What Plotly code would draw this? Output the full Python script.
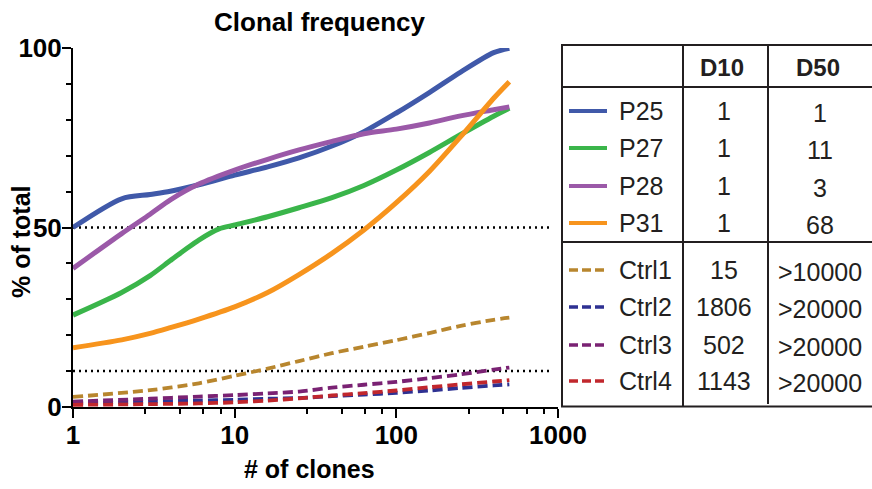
import plotly.graph_objects as go

# ---------------- data ----------------
x_p = [1, 2, 3, 4, 6, 10, 16, 25, 40, 63, 100, 160, 250, 400, 500]
p25 = [50, 58, 59.2, 60.1, 61.9, 64.6, 66.9, 69.4, 72.7, 76.7, 81.9, 87.6, 93.3, 98.7, 99.9]
x_p28 = [1, 2, 3, 4, 6, 10, 16, 25, 40, 63, 100, 160, 250, 400, 500]
p28 = [38.6, 48.3, 53.7, 57.7, 62.1, 66.0, 69.0, 71.6, 74.0, 76.1, 77.4, 79.1, 81.1, 82.8, 83.6]
x_p27 = [1, 2, 3, 4, 5, 6, 8, 10, 16, 25, 40, 63, 100, 160, 250, 400, 500]
p27 = [25.6, 31.9, 36.6, 40.8, 44.0, 46.5, 49.6, 50.7, 53.0, 55.5, 58.3, 61.7, 66.0, 70.9, 75.9, 81.0, 83.2]
x_p31 = [1, 2, 3, 4, 6, 10, 16, 25, 40, 63, 100, 160, 250, 400, 500]
p31 = [16.5, 18.7, 20.5, 22.1, 24.5, 27.9, 31.9, 36.9, 42.8, 49.3, 56.9, 65.6, 75.3, 86.0, 90.6]
x_c = [1, 3, 6, 10, 16, 25, 40, 63, 100, 160, 250, 400, 500]
ctrl1 = [2.8, 4.7, 6.6, 8.7, 10.7, 12.8, 15.0, 16.8, 18.6, 20.6, 22.6, 24.3, 24.9]
ctrl2 = [1.0, 1.5, 1.8, 2.0, 2.3, 2.5, 3.05, 3.45, 3.95, 4.6, 5.3, 6.0, 6.3]
ctrl3 = [1.5, 2.3, 2.9, 3.3, 3.8, 4.3, 5.4, 6.2, 7.0, 8.05, 9.1, 10.4, 11.0]
ctrl4 = [0.6, 0.8, 1.0, 1.3, 1.8, 2.4, 3.2, 3.85, 4.6, 5.5, 6.3, 7.1, 7.5]

names = ["P25", "P27", "P28", "P31", "Ctrl1", "Ctrl2", "Ctrl3", "Ctrl4"]
d10 = ["1", "1", "1", "1", "15", "1806", "502", "1143"]
d50 = ["1", "11", "3", "68", ">10000", ">20000", ">20000", ">20000"]
colors = ["#4059A9", "#3AB54A", "#9B59A8", "#F7941D",
          "#B8862E", "#2E3192", "#7A2273", "#C1272D"]
thresholds = [50, 10]
x_ticks = [1, 10, 100, 1000]
x_minor = [2.8, 4.6, 6.4, 8.2, 28, 46, 64, 82, 280, 460, 640, 820]

# ---------------- layout geometry (pixels) ----------------
W, H = 872, 489
L, R, T, B = 73, 558, 48, 407


def px(xp):
    return (xp - L) / (R - L)


def py(yp):
    return (B - yp) / (B - T)


FONT = "Liberation Sans, Arial, sans-serif"

fig = go.Figure()

series = [
    (x_p, p25, 0, "solid"), (x_p27, p27, 1, "solid"), (x_p28, p28, 2, "solid"),
    (x_p31, p31, 3, "solid"),
    (x_c, ctrl1, 4, "dash"), (x_c, ctrl2, 5, "dash"), (x_c, ctrl3, 6, "dash"),
    (x_c, ctrl4, 7, "dash"),
]
for xs, ys, i, style in series:
    if style == "solid":
        line = dict(color=colors[i], width=5, shape="spline", smoothing=0.8)
    else:
        line = dict(color=colors[i], width=3.8, shape="spline", smoothing=0.8,
                    dash="10px,5px")
    fig.add_trace(go.Scatter(x=xs, y=ys, mode="lines", name=names[i],
                             line=line, showlegend=False, hoverinfo="skip"))

shapes = []
# dotted threshold lines
for t in thresholds:
    shapes.append(dict(type="line", xref="paper", yref="y", x0=0, x1=px(553),
                       y0=t, y1=t, layer="below",
                       line=dict(color="black", width=2.5, dash="2px,4px")))

# table lines
TL, TR = 562, 872
tcol = "#231F20"
for yl in [45, 87, 242, 406.5]:
    shapes.append(dict(type="line", xref="paper", yref="paper",
                       x0=px(TL - 1), x1=px(TR), y0=py(yl), y1=py(yl),
                       line=dict(color=tcol, width=2)))
shapes.append(dict(type="line", xref="paper", yref="paper",
                   x0=px(TL), x1=px(TL), y0=py(45), y1=py(406.5),
                   line=dict(color=tcol, width=2)))
shapes.append(dict(type="line", xref="paper", yref="paper",
                   x0=px(683), x1=px(683), y0=py(45), y1=py(406.5),
                   line=dict(color=tcol, width=2)))
shapes.append(dict(type="line", xref="paper", yref="paper",
                   x0=px(768), x1=px(768), y0=py(45), y1=py(404),
                   line=dict(color=tcol, width=2)))

row_y = [111, 148, 186, 223, 270, 307, 345, 381]
annotations = []
for i, name in enumerate(names):
    yv = row_y[i]
    dash = "solid" if i < 4 else "9px,4px"
    shapes.append(dict(type="line", xref="paper", yref="paper",
                       x0=px(569), x1=px(607), y0=py(yv), y1=py(yv),
                       line=dict(color=colors[i], width=4 if i < 4 else 3.5, dash=dash)))
    annotations.append(dict(xref="paper", yref="paper", x=px(617), y=py(yv),
                            text=name, showarrow=False, xanchor="left", yanchor="middle",
                            font=dict(family=FONT, size=25, color=tcol)))
    annotations.append(dict(xref="paper", yref="paper", x=px(724), y=py(yv),
                            text=d10[i], showarrow=False, xanchor="center", yanchor="middle",
                            font=dict(family=FONT, size=25, color=tcol)))
    annotations.append(dict(xref="paper", yref="paper", x=px(820), y=py(yv + 2),
                            text=d50[i], showarrow=False, xanchor="center", yanchor="middle",
                            font=dict(family=FONT, size=25, color=tcol)))

for label, xc in [("D10", 722), ("D50", 818)]:
    annotations.append(dict(xref="paper", yref="paper", x=px(xc), y=py(67),
                            text=label, showarrow=False, xanchor="center", yanchor="middle",
                            font=dict(family=FONT, size=24, color=tcol, weight="bold")))

# titles
annotations.append(dict(xref="paper", yref="paper", x=px(319), y=py(22),
                        text="Clonal frequency", showarrow=False,
                        xanchor="center", yanchor="middle",
                        font=dict(family=FONT, size=26, color="black", weight="bold")))
annotations.append(dict(xref="paper", yref="paper", x=px(309), y=py(469),
                        text="# of clones", showarrow=False,
                        xanchor="center", yanchor="middle",
                        font=dict(family=FONT, size=25, color="black", weight="bold")))
annotations.append(dict(xref="paper", yref="paper", x=px(21), y=py(242),
                        text="% of total", showarrow=False, textangle=-90,
                        xanchor="center", yanchor="middle",
                        font=dict(family=FONT, size=25, color="black", weight="bold")))

fig.update_layout(
    width=W, height=H,
    margin=dict(l=L, r=W - R, t=T, b=H - B, pad=0),
    plot_bgcolor="white", paper_bgcolor="white",
    shapes=shapes, annotations=annotations,
    xaxis=dict(type="log", range=[0, 3], showgrid=False, zeroline=False,
               showline=True, linecolor="black", linewidth=2,
               tickmode="array", tickvals=x_ticks, ticktext=[str(v) for v in x_ticks],
               ticks="outside", ticklen=9, tickwidth=2, tickcolor="black",
               ticklabelstandoff=-5,
               tickfont=dict(family=FONT, size=26, color="black", weight="bold"),
               minor=dict(tickmode="array", tickvals=x_minor, ticks="outside",
                          ticklen=5, tickwidth=2, tickcolor="black", showgrid=False)),
    yaxis=dict(range=[0, 100], showgrid=False, zeroline=False,
               showline=True, linecolor="black", linewidth=2,
               tickmode="array", tickvals=[0, 50, 100],
               ticks="outside", ticklen=9, tickwidth=2, tickcolor="black",
               ticklabelstandoff=-5,
               tickfont=dict(family=FONT, size=26, color="black", weight="bold"),
               minor=dict(dtick=10, ticks="outside", ticklen=5, tickwidth=2,
                          tickcolor="black", showgrid=False)),
)

fig.write_html("out.html")
